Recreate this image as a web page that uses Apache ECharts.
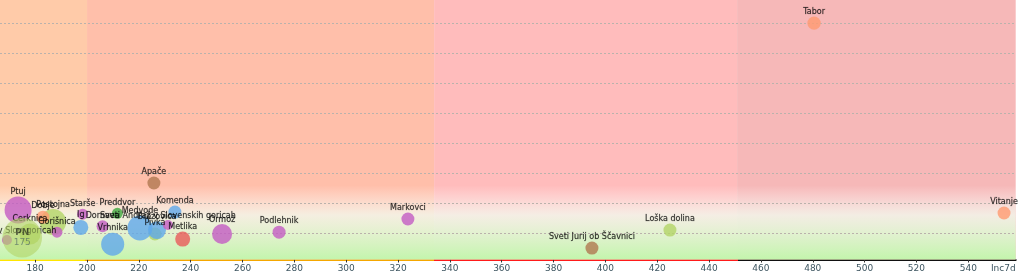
<!DOCTYPE html>
<html><head><meta charset="utf-8">
<script src="https://cdn.jsdelivr.net/npm/echarts@6/dist/echarts.min.js"></script>
<style>html,body{margin:0;padding:0;background:#fff}#c{width:1024px;height:276px}</style>
</head><body><div id="c"></div>
<script>
// ---- data ----
const names = ['Tabor','Vitanje','Loška dolina','Sveti Jurij ob Ščavnici','Markovci','Podlehnik','Ormož','Apače','Komenda','Medvode','Brezovica','Pivka','Metlika','Vrhnika','Dornava','Preddvor','Sveti Andraž v Slovenskih goricah','Ig','Starše','Ptuj','Postojna','Cerknica','Gorišnica','Dobje','Sveti Jurij v Slov. goricah'];
const regions = ['ce','ce','po','ms','mb','mb','mb','ms','lj','lj','lj','po','nm','lj','mb','kr','mb','lj','mb','mb','po','po','mb','ce','mb'];
const inc7d = [480.5,553.8,424.9,394.8,323.8,274.1,252.1,225.8,233.9,220.4,227.0,226.2,236.9,209.9,206.0,211.7,231.2,197.6,198.3,173.4,186.9,178.0,188.4,183.0,169.1];
const yValues = [80.1,16.8,11.1,5.1,14.8,10.4,9.8,26.8,17.1,11.8,11.1,9.8,8.1,6.4,12.4,16.7,12.8,12.0,16.4,17.8,13.8,9.8,10.4,15.4,7.8];
const population = [1900,1650,1650,1650,1650,1650,9500,1650,1650,19100,6500,1650,3240,14900,1060,600,260,3240,600,23900,21400,11200,600,1650,260];
// region aggregate bubble
const regionNames = ['PN'];
const regionKeys = ['po'];
const regionInc7d = [175];
const regionY = [8.6];
const regionPopulation = [66000];
const xTickValues = [180,200,220,240,260,280,300,320,340,360,380,400,420,440,460,480,500,520,540];
const thresholds = [200, 333.9, 450.8];
const gridLines = [10,20,30,40,50,60,70,80];
const xMin = 166.42, xMax = 558.3, yMin = 1.3, yMax = 87.8;

const regionColors = {mb:'#c35bc3', lj:'#5fa8ea', ms:'#b07850', ce:'#ff9a70', po:'#b3d466', nm:'#e85a5a', kr:'#3fa83f'};
const bandColors = ['#ffcba9','#ffbfaa','#ffbcbc','#f6b8b8'];
const axisColors = ['#ffe600','#f5a700','#ff1a1a','#111111'];

const sizeOf = p => 8 + 0.123 * Math.sqrt(p);

// bands
const edges = [xMin, ...thresholds, xMax];
const bandData = [];
for (let i = 0; i < edges.length - 1; i++) {
  bandData.push([{xAxis: edges[i], itemStyle:{color: bandColors[i]}}, {xAxis: edges[i+1]}]);
}
// axis gradient
const stops = [];
for (let i = 0; i < edges.length - 1; i++) {
  stops.push({offset:(edges[i]-xMin)/(xMax-xMin), color: axisColors[i]});
  stops.push({offset:(edges[i+1]-xMin)/(xMax-xMin), color: axisColors[i]});
}

const labelStyle = {show:true, position:'top', distance:0, lineHeight:9, formatter: p=>p.name, color:'#000', fontSize:8, fontFamily:'DejaVu Sans',
  textBorderColor:'rgba(0,0,0,0.35)', textBorderWidth:0.5};
const regionOrder = ['po','ms','ce','kr','nm','lj','mb'];
const bubbleSeries = regionOrder.map(r => ({
  type:'scatter', name:r, z:5,
  data: names.map((n,i)=>({name:n, value:[inc7d[i], yValues[i], population[i]], r:regions[i]})).filter(d=>d.r===r),
  symbolSize: v => sizeOf(v[2]),
  itemStyle:{color: regionColors[r], opacity:0.8},
  label: labelStyle,
  emphasis:{disabled:true}
}));

const chart = echarts.init(document.getElementById('c'), null, {renderer:'canvas'});
chart.setOption({
  animation:false,
  grid:{left:0, right:8.3, top:0, bottom:16.5, containLabel:false, outerBoundsMode:'none'},
  xAxis:{type:'value', min:xMin, max:xMax,
    name:'Inc7d', nameLocation:'end', nameGap:0,
    nameTextStyle:{align:'right', verticalAlign:'top', padding:[5,0,0,0], color:'#3d5560', fontSize:9, fontFamily:'DejaVu Sans'},
    axisLine:{show:true, onZero:false, lineStyle:{width:2, color:new echarts.graphic.LinearGradient(0,0,1,0,stops)}},
    axisTick:{show:true, length:3, lineStyle:{color:'#333'}, customValues:xTickValues},
    axisLabel:{color:'#3d5560', fontSize:9, fontFamily:'DejaVu Sans', margin:5, customValues:xTickValues},
    splitLine:{show:false}},
  yAxis:{type:'value', min:yMin, max:yMax, show:false, splitLine:{show:false}},
  series:[
    {type:'scatter', data:[], z:1, silent:true,
      markArea:{silent:true, data:bandData}},
    {type:'scatter', data:[], z:2, silent:true,
      markArea:{silent:true, data:[[{yAxis:yMin, itemStyle:{color:new echarts.graphic.LinearGradient(0,0,0,1,[
        {offset:0,color:'rgba(255,255,255,0)'},{offset:0.4,color:'rgba(242,250,238,0.8)'},{offset:1,color:'rgba(195,245,172,1)'}])}},{yAxis:26}]]}},
    {type:'scatter', data:[], z:3, silent:true,
      markLine:{silent:true, symbol:'none', label:{show:false},
        lineStyle:{type:[2,2], color:'#bab2ac', width:1}, data: gridLines.map(v=>({yAxis:v}))}},
    ...bubbleSeries,
    {type:'scatter', z:6, silent:true,
      data: regionNames.map((n,i)=>({name:n, value:[regionInc7d[i], regionY[i], regionPopulation[i]], itemStyle:{color:regionColors[regionKeys[i]]}})),
      symbolSize: v => sizeOf(v[2]),
      itemStyle:{opacity:0.6},
      label:{show:true, position:'inside', formatter: p=>'{a|'+p.name+'}\n{b|'+p.value[0]+'}',
        rich:{a:{fontSize:9, fontWeight:'bold', color:'#111', fontFamily:'DejaVu Sans', lineHeight:10},
              b:{fontSize:9, color:'#3d5560', fontFamily:'DejaVu Sans', lineHeight:10}}}}
  ]
});
</script></body></html>
